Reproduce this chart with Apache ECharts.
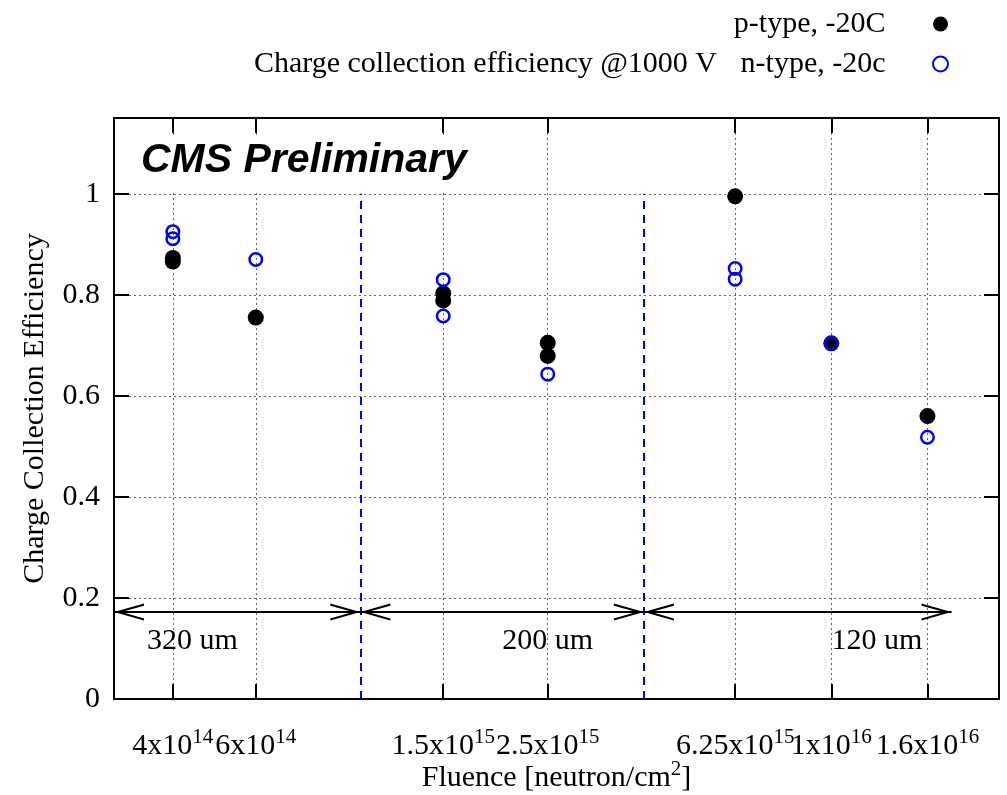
<!DOCTYPE html>
<html>
<head>
<meta charset="utf-8">
<script src="https://cdn.jsdelivr.net/npm/echarts@6/dist/echarts.min.js"></script>
<style>
  html, body { margin: 0; padding: 0; background: #fff; }
  #chart { width: 1007px; height: 795px; }
</style>
</head>
<body>
<div id="chart"></div>
<script>
// Fluence ticks and their labels (mantissa x 10^exponent)
const fluenceTicks = [4e14, 6e14, 1.5e15, 2.5e15, 6.25e15, 1e16, 1.6e16];
const tickMantissa = ['4', '6', '1.5', '2.5', '6.25', '1', '1.6'];
const tickExponent = ['14', '14', '15', '15', '15', '16', '16'];

// p-type sensors, -20C
const pFluence = [4e14, 4e14, 6e14, 1.5e15, 1.5e15, 2.5e15, 2.5e15, 6.25e15, 1e16, 1.6e16];
const pCCE     = [0.873, 0.866, 0.755, 0.803, 0.789, 0.705, 0.679, 0.995, 0.704, 0.560];

// n-type sensors, -20c
const nFluence = [4e14, 4e14, 6e14, 1.5e15, 1.5e15, 2.5e15, 6.25e15, 6.25e15, 1e16, 1.6e16];
const nCCE     = [0.925, 0.911, 0.870, 0.830, 0.758, 0.643, 0.852, 0.831, 0.704, 0.518];

// Sensor thickness regions
const regionEdges = [3e14, 1e15, 4e15, 1.8e16];
const regionNames = ['320 um', '200 um', '120 um'];
const regionLabelAt = [4.4e14, 2.5e15, 1.25e16];
const regionArrowLevel = 0.172;
const regionLabelLevel = 0.114;
const dividerFluence = [1e15, 4e15];
const dividerTop = 1.0;

const SERIF = 'Liberation Serif';
const BLUE = '#0000ff';
const lg = v => Math.log10(v);
const xMin = lg(3e14), xMax = lg(2.27e16);

function fluenceLabel(val) {
  const i = fluenceTicks.findIndex(f => Math.abs(lg(f) - val) < 1e-6);
  if (i < 0) return '';
  return '{m|' + tickMantissa[i] + 'x10}{e|' + tickExponent[i] + '}';
}

// open arrow head pointing "up" in its own frame
const chevron = 'path://M0,30 L8.5,0 L17,30 L14.8,30 L8.5,7.5 L2.2,30 Z';

function arrowEnd(f) {
  return {
    coord: [lg(f), regionArrowLevel],
    symbol: chevron, symbolSize: [17, 30], symbolOffset: [0, 15],
    lineStyle: { color: '#000', width: 2, type: 'solid' }
  };
}

const tickValues = fluenceTicks.map(lg);
const gridLine = { show: true, lineStyle: { color: '#666', width: 1, type: [2, 3] } };
const supRich = {
  m: { fontFamily: SERIF, fontSize: 30, lineHeight: 34, color: '#000', verticalAlign: 'bottom' },
  e: { fontFamily: SERIF, fontSize: 21, lineHeight: 21, color: '#000', verticalAlign: 'top' }
};

const chart = echarts.init(document.getElementById('chart'), null, { renderer: 'canvas' });
chart.setOption({
  animation: false,
  backgroundColor: '#fff',
  textStyle: { fontFamily: SERIF, color: '#000' },
  title: [
    {
      text: 'CMS Preliminary',
      left: 128, top: 138,
      padding: [2, 12, 12, 13],
      backgroundColor: '#fff',
      textStyle: {
        fontFamily: 'Liberation Sans', fontStyle: 'italic', fontWeight: 'bold',
        fontSize: 41, lineHeight: 41, color: '#000'
      }
    },
    {
      text: 'Charge collection efficiency @1000 V',
      right: 290, top: 49, padding: 0,
      textStyle: { fontFamily: SERIF, fontWeight: 'normal', fontSize: 30, lineHeight: 30, color: '#000' }
    }
  ],
  legend: {
    orient: 'vertical',
    align: 'right',
    right: 58, top: 9, padding: 0,
    itemWidth: 100, itemHeight: 15, itemGap: 10,
    selectedMode: false,
    textStyle: { fontFamily: SERIF, fontSize: 30, lineHeight: 30, color: '#000' },
    data: [
      { name: 'p-type, -20C', icon: 'circle', itemStyle: { color: '#000', borderWidth: 0, opacity: 1 } },
      { name: 'n-type, -20c', icon: 'circle',
        itemStyle: { color: 'rgba(0,0,0,0)', borderColor: BLUE, borderWidth: 2, opacity: 1 } }
    ]
  },
  grid: { left: 114, right: 8, top: 118, bottom: 96, containLabel: false, outerBoundsMode: 'none' },
  xAxis: [
    {
      type: 'value', position: 'bottom', min: xMin, max: xMax,
      axisLine: { show: true, onZero: false, lineStyle: { color: '#000', width: 2 } },
      axisTick: { show: true, inside: true, length: 15, customValues: tickValues,
                  lineStyle: { color: '#000', width: 2 } },
      axisLabel: {
        show: true, customValues: tickValues, margin: 28, formatter: fluenceLabel,
        rich: supRich
      },
      splitLine: gridLine,
      name: '{m|Fluence [neutron/cm}{e|2}{m|]}',
      nameLocation: 'middle', nameGap: 60, nameMoveOverlap: false,
      nameTextStyle: { rich: supRich }
    },
    {
      type: 'value', position: 'top', min: xMin, max: xMax,
      axisLine: { show: true, onZero: false, lineStyle: { color: '#000', width: 2 } },
      axisTick: { show: true, inside: true, length: 15, customValues: tickValues,
                  lineStyle: { color: '#000', width: 2 } },
      axisLabel: { show: false },
      splitLine: { show: false }
    }
  ],
  yAxis: [
    {
      type: 'value', position: 'left', min: 0, max: 1.15, interval: 0.2,
      axisLine: { show: true, onZero: false, lineStyle: { color: '#000', width: 2 } },
      axisTick: { show: true, inside: true, length: 15, lineStyle: { color: '#000', width: 2 } },
      axisLabel: { show: true, margin: 14, showMaxLabel: false,
                   fontFamily: SERIF, fontSize: 30, color: '#000' },
      splitLine: gridLine,
      name: 'Charge Collection Efficiency',
      nameLocation: 'middle', nameGap: 64, nameMoveOverlap: false,
      nameTextStyle: { fontFamily: SERIF, fontSize: 30, color: '#000' }
    },
    {
      type: 'value', position: 'right', min: 0, max: 1.15, interval: 0.2,
      axisLine: { show: true, onZero: false, lineStyle: { color: '#000', width: 2 } },
      axisTick: { show: true, inside: true, length: 15, lineStyle: { color: '#000', width: 2 } },
      axisLabel: { show: false },
      splitLine: { show: false }
    }
  ],
  series: [
    {
      name: 'regions',
      type: 'scatter',
      symbolSize: 0,
      silent: true,
      z: 1,
      itemStyle: { opacity: 1 },
      data: regionNames.map((n, i) => ({ name: n, value: [lg(regionLabelAt[i]), regionLabelLevel] })),
      label: {
        show: true, position: 'inside', formatter: '{b}',
        fontFamily: SERIF, fontSize: 30, color: '#000', opacity: 1
      },
      markLine: {
        silent: true,
        symbol: 'none',
        label: { show: false },
        lineStyle: { color: BLUE, width: 2, type: [8, 6] },
        data: dividerFluence.map(f => [
          { coord: [lg(f), 0] },
          { coord: [lg(f), dividerTop] }
        ]).concat(regionEdges.slice(0, -1).map((f, i) => [
          arrowEnd(f),
          arrowEnd(regionEdges[i + 1])
        ]))
      }
    },
    {
      name: 'p-type, -20C',
      type: 'scatter',
      symbol: 'circle',
      symbolSize: 16,
      z: 3,
      itemStyle: { color: '#000', opacity: 1 },
      data: pFluence.map((f, i) => [lg(f), pCCE[i]])
    },
    {
      name: 'n-type, -20c',
      type: 'scatter',
      symbol: 'circle',
      symbolSize: 12.5,
      z: 4,
      itemStyle: { color: 'rgba(0,0,0,0)', borderColor: BLUE, borderWidth: 2.5, opacity: 1 },
      data: nFluence.map((f, i) => [lg(f), nCCE[i]])
    }
  ]
});
</script>
</body>
</html>
